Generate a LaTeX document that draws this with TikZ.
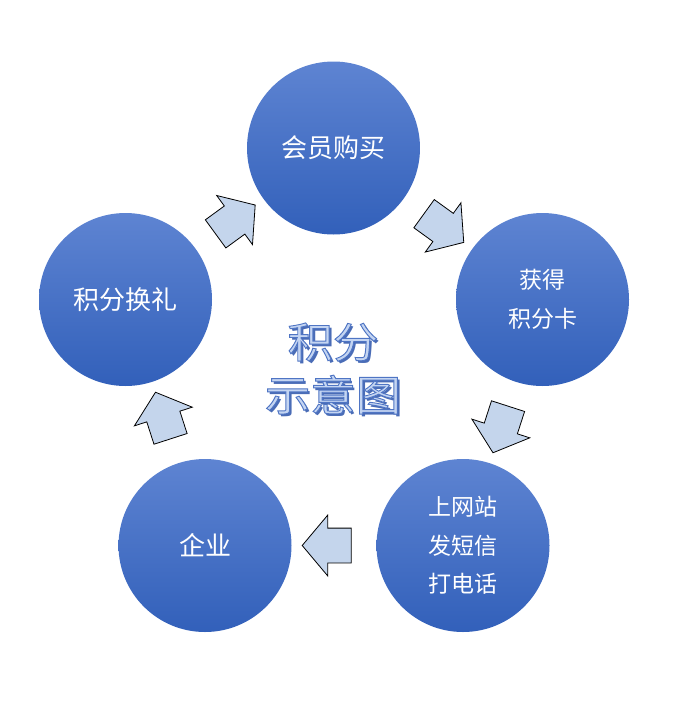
\documentclass[tikz,border=0pt]{standalone}
\usepackage{fontspec}
\setmainfont{Noto Sans CJK SC}
\definecolor{circtop}{RGB}{94,132,210}
\definecolor{circbot}{RGB}{50,96,186}
\definecolor{arrfill}{RGB}{196,213,236}
\definecolor{titlefill}{RGB}{196,213,242}
\definecolor{titleshade}{RGB}{74,108,182}
\usetikzlibrary{shapes.arrows,calc}
% outlined text: fill and stroke (render mode 2)
\newcommand{\outlinetext}[1]{\special{pdf:literal direct 2 Tr 0.9 w 0.31 0.46 0.77 RG}#1}

\begin{document}
\begin{tikzpicture}[x=1pt,y=-1pt,
    every node/.style={inner sep=0pt},
    stepnode/.style={circle,minimum size=173pt,top color=circtop,bottom color=circbot,text=white,align=center},
    bignode/.style={font=\fontsize{26}{30}\selectfont},
    smallnode/.style={font=\fontsize{23}{38.5}\selectfont},
    blockarrow/.style={single arrow,draw=black,fill=arrfill,line width=0.8pt,
      minimum height=49pt,minimum width=60pt,inner xsep=0pt,inner ysep=17pt,
      single arrow head extend=13pt,single arrow tip angle=100},
    titlenode/.style={align=center,font=\fontsize{42}{53}\selectfont,xscale=1.08}
    ]
    \useasboundingbox (0,0) rectangle (679,720);

    \node (c1) [stepnode,bignode] at (333.5,148) {会员购买};
    \node (c2) [stepnode,smallnode] at (542.5,299.5) {获得\\积分卡};
    \node (c3) [stepnode,smallnode] at (463,545.5) {上网站\\发短信\\打电话};
    \node (c4) [stepnode,bignode] at (205,545.5) {企业};
    \node (c5) [stepnode,bignode] at (125.5,299.5) {积分换礼};

    % the arrows
    \node (a1) [blockarrow,rotate=36.1] at ($(c5)!0.5!(c1)$) {};
    \node (a2) [blockarrow,rotate=-35.9] at ($(c1)!0.5!(c2)$) {};
    \node (a3) [blockarrow,rotate=-107.9] at ($(c2)!0.5!(c3)$) {};
    \node (a4) [blockarrow,rotate=180] at ($(c3)!0.5!(c4)$) {};
    \node (a5) [blockarrow,rotate=107.9] at ($(c4)!0.5!(c5)$) {};

    % the title
    \node (ts) [titlenode,text=titleshade] at (335.5,371) {积分\\示意图};
    \node (tt) [titlenode,text=titlefill] at (333,368.5) {\outlinetext{积分}\\\outlinetext{示意图}};
\end{tikzpicture}
\end{document}
